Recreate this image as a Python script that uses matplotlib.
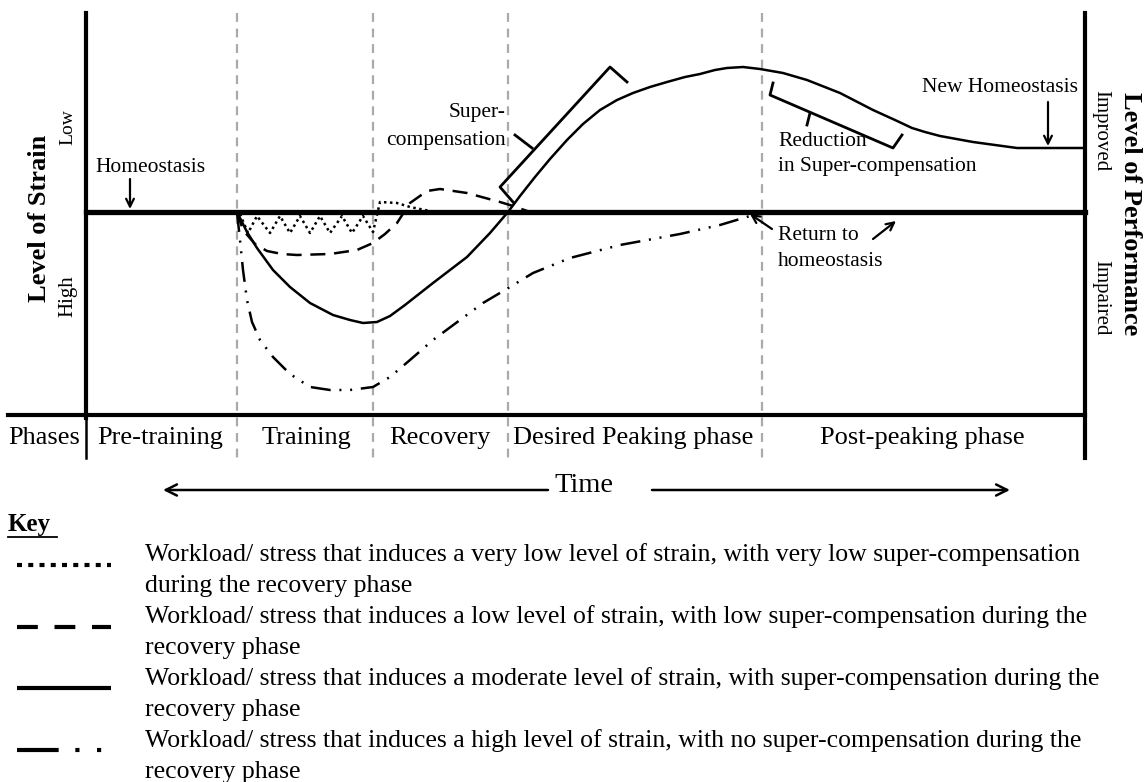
import matplotlib.pyplot as plt
from matplotlib.patches import FancyArrowPatch

# === CONFIG ===
W, H = 1144, 782
FONT = "Liberation Serif"

# --- diagram data (pixel space) ---
phase_bounds = [237, 373, 508, 762]
phase_names = ["Pre-training", "Training", "Recovery", "Desired Peaking phase", "Post-peaking phase"]
phase_centers = [160, 306, 440, 633, 922]

homeostasis_y = 212

# moderate strain (solid)
moderate_x = [237, 240, 247, 257, 273, 290, 310, 333, 350, 363, 377, 390, 405, 433, 467, 490, 508,
              520, 535, 550, 567, 583, 600, 617, 633, 650, 667, 685, 700, 715, 727, 743, 760, 783,
              807, 840, 873, 895, 912, 925, 940, 973, 1017, 1085]
moderate_y = [212, 218, 232, 248, 270, 287, 303, 315, 320, 323, 322, 316, 305, 283, 257, 233, 212,
              196, 177, 159, 140, 124, 110, 100, 93, 87, 82, 77, 74, 70, 68, 67, 69, 73,
              80, 93, 110, 120, 128, 132, 136, 142, 148, 148]

# low strain (dashed)
low_x = [237, 243, 255, 267, 282, 297, 330, 357, 373, 385, 397, 410, 427, 440, 467, 500, 513, 530]
low_y = [212, 230, 244, 251, 254, 255, 254, 250, 243, 234, 223, 203, 191, 189, 193, 202, 206, 212]

# very low strain (dotted zigzag)
verylow_x = [240, 248, 257, 270, 280, 290, 300, 310, 320, 330, 342, 352, 363, 373,
             380, 397, 410, 430]
verylow_y = [214, 233, 216, 233, 216, 233, 216, 233, 216, 233, 216, 233, 216, 232,
             202, 203, 207, 211]

# high strain (dash-dot-dot)
high_x = [237, 240, 243, 247, 252, 260, 273, 290, 310, 330, 350, 373, 390, 410, 433, 460,
          483, 510, 533, 570, 620, 680, 720, 760]
high_y = [212, 240, 270, 300, 322, 340, 357, 374, 387, 390, 390, 387, 377, 360, 340, 320,
          303, 287, 273, 258, 245, 234, 225, 213]

# brackets
supercomp_bracket_x = [513, 500, 610, 627]
supercomp_bracket_y = [202, 187, 67, 82]
supercomp_tick_x = [532, 515]
supercomp_tick_y = [148, 135]
reduction_bracket_x = [773, 770, 893, 902]
reduction_bracket_y = [83, 95, 148, 135]
reduction_tick_x = [810, 807]
reduction_tick_y = [113, 125]

key_labels = [
    "Workload/ stress that induces a very low level of strain, with very low super-compensation\nduring the recovery phase",
    "Workload/ stress that induces a low level of strain, with low super-compensation during the\nrecovery phase",
    "Workload/ stress that induces a moderate level of strain, with super-compensation during the\nrecovery phase",
    "Workload/ stress that induces a high level of strain, with no super-compensation during the\nrecovery phase",
]
key_styles = [(0, (1.2, 1.5)), (0, (5, 4)), "-", (0, (10, 4, 1, 4.2, 1, 10))]
key_rows = [565, 627, 688, 750]
key_text_top = 555
key_line_pitch = 31

DASHDOTDOT = (0, (8, 3.5, 0.8, 3.5, 0.8, 3.5))


def arrow(ax, start, end, lw=1.6, scale=14):
    ax.add_patch(FancyArrowPatch(start, end, arrowstyle="->", mutation_scale=scale,
                                 lw=lw, color="black", shrinkA=0, shrinkB=0))


def main():
    plt.rcParams["font.family"] = [FONT, "DejaVu Serif"]
    fig = plt.figure(figsize=(W / 100, H / 100), dpi=100)
    ax = fig.add_axes([0, 0, 1, 1])
    ax.set_xlim(0, W)
    ax.set_ylim(H, 0)
    ax.axis("off")

    # frame
    ax.plot([86, 86], [13, 418], color="black", lw=3)
    ax.plot([1085, 1085], [13, 458], color="black", lw=3)
    ax.plot([8, 1085], [415, 415], color="black", lw=3)
    ax.plot([86, 86], [415, 458], color="black", lw=1.8)
    ax.plot([86, 1085], [homeostasis_y, homeostasis_y], color="black", lw=3.8)

    for xb in phase_bounds:
        ax.plot([xb, xb], [13, 458], color="#aaaaaa", lw=1.6, ls=(0, (4, 3)), zorder=0)

    # curves
    ax.plot(moderate_x, moderate_y, color="black", lw=1.8, solid_joinstyle="round")
    ax.plot(low_x, low_y, color="black", lw=1.8, ls=(0, (6, 3.5)))
    ax.plot(verylow_x, verylow_y, color="black", lw=1.8, ls=(0, (1, 1.4)))
    ax.plot(high_x, high_y, color="black", lw=1.8, ls=DASHDOTDOT)

    ax.plot(supercomp_bracket_x, supercomp_bracket_y, color="black", lw=2)
    ax.plot(supercomp_tick_x, supercomp_tick_y, color="black", lw=2)
    ax.plot(reduction_bracket_x, reduction_bracket_y, color="black", lw=2)
    ax.plot(reduction_tick_x, reduction_tick_y, color="black", lw=2)

    # annotations
    fs = 15.5
    ax.text(95, 167, "Homeostasis", fontsize=fs, va="center")
    arrow(ax, (130, 179), (130, 209))
    ax.text(506, 113, "Super-", fontsize=fs, ha="right", va="center")
    ax.text(506, 141, "compensation", fontsize=fs, ha="right", va="center")
    ax.text(778, 142, "Reduction", fontsize=fs, va="center")
    ax.text(778, 167, "in Super-compensation", fontsize=fs, va="center")
    ax.text(1078, 87, "New Homeostasis", fontsize=fs, ha="right", va="center")
    arrow(ax, (1048, 102), (1048, 146))
    ax.text(778, 236, "Return to", fontsize=fs, va="center")
    ax.text(778, 262, "homeostasis", fontsize=fs, va="center")
    arrow(ax, (772, 229), (750, 214))
    arrow(ax, (873, 239), (896, 221))

    # axis labels
    ax.text(40, 218, "Level of Strain", fontsize=19, fontweight="bold", rotation=90,
            ha="center", va="center")
    ax.text(68, 127, "Low", fontsize=14, rotation=90, ha="center", va="center")
    ax.text(68, 296, "High", fontsize=15, rotation=90, ha="center", va="center")
    ax.text(1130, 214, "Level of Performance", fontsize=19, fontweight="bold", rotation=270,
            ha="center", va="center")
    ax.text(1101, 131, "Improved", fontsize=15, rotation=270, ha="center", va="center")
    ax.text(1101, 298, "Impaired", fontsize=15, rotation=270, ha="center", va="center")

    # phases row
    ax.text(8, 438, "Phases", fontsize=19, va="center")
    for name, xc in zip(phase_names, phase_centers):
        ax.text(xc, 438, name, fontsize=19, ha="center", va="center")

    # time arrow
    ax.text(584, 486, "Time", fontsize=20.5, ha="center", va="center")
    arrow(ax, (548, 490), (163, 490), lw=1.8, scale=20)
    arrow(ax, (652, 490), (1010, 490), lw=1.8, scale=20)

    # key
    ax.text(8, 524, "Key", fontsize=18, fontweight="bold", va="center")
    ax.plot([8, 57], [537, 537], color="black", lw=1.3)
    for i, (label, style, yr) in enumerate(zip(key_labels, key_styles, key_rows)):
        ax.plot([17, 111], [yr, yr], color="black", lw=3, ls=style, solid_capstyle="butt",
                dash_capstyle="butt")
        for j, line in enumerate(label.split("\n")):
            y_line = key_text_top + (2 * i + j) * key_line_pitch
            ax.text(145, y_line, line, fontsize=18.5, va="center")

    fig.savefig("out.png", dpi=100)
    plt.close(fig)


if __name__ == "__main__":
    main()
